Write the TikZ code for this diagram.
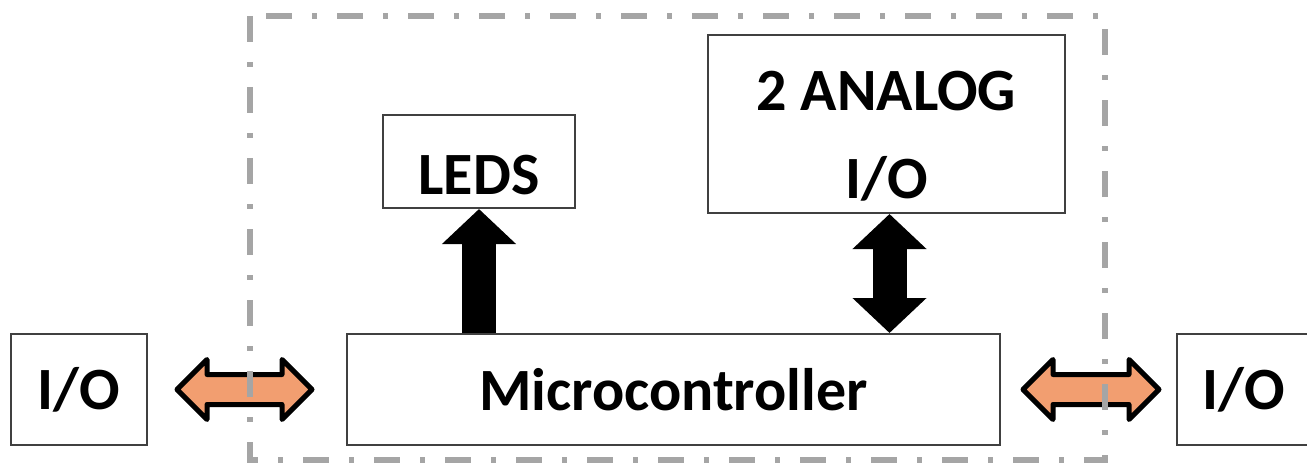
\documentclass[tikz,border=0pt]{standalone}
\usepackage{fontspec}
\setmainfont{Carlito}
\usetikzlibrary{arrows.meta,%
		calc,%
		positioning}
\definecolor{ioorange}{RGB}{242,158,112}
\definecolor{framegray}{RGB}{165,165,165}
\tikzset{
  blk/.style={draw=black!75, line width=1pt, fill=white, inner sep=0pt,
    align=center, font=\fontsize{30}{42}\selectfont\bfseries},
  frame/.style={draw=framegray, line width=3pt,
    dash pattern=on 13pt off 10pt on 2.5pt off 10pt},
  fatarrow/.style={line width=17pt, -{Triangle[width=36pt,length=17.5pt]}},
  fatdouble/.style={line width=17pt,
    {Triangle[width=36pt,length=17.5pt]}-{Triangle[width=36pt,length=17.5pt]}},
  orangearrow/.style={fill=ioorange, draw=black, line width=2.5pt, line join=round}
}
\newcommand\ioarrow[2]{%
  \draw[orangearrow] (#1) -- ++(30,-30) -- ++(0,15) -- ($(#2)+(-30,-15)$)
    -- ++(0,-15) -- (#2) -- ++(-30,30) -- ++(0,-15) -- ($(#1)+(30,15)$)
    -- ++(0,15) -- cycle;}

\begin{document}
\begin{tikzpicture}[x=0.5pt,y=-0.5pt]
  \useasboundingbox (0,0) rectangle (1307,465);

  % boxes
  \node[blk, minimum width=68pt, minimum height=55.5pt] (iol) at (79,389.5) {I/O};
  \node[blk, minimum width=326.5pt, minimum height=55.5pt] (mcu) at (673.5,389.5) {Microcontroller};
  \node[blk, minimum width=66.5pt, minimum height=55.5pt] (ior) at (1243.5,389.5) {I/O};
  \node[blk, minimum width=96pt, minimum height=46.5pt] (leds) at (479,161.5)
    {\raisebox{-7pt}[\height][\depth]{LEDS}};
  \node[blk, minimum width=178.5pt, minimum height=89pt] (ana) at (886.5,124)
    {\raisebox{-6pt}[\height][\depth]{\shortstack{2 ANALOG\\[20pt]I/O}}};

  % arrows
  \draw[fatarrow] (leds.south |- mcu.north) -- (leds.south);
  \draw[fatdouble] ($(mcu.north -| ana.south)+(3,0)$) -- ($(ana.south)+(3,0)$);
  \coordinate (la) at ($(iol.east)+(29,0)$);
  \coordinate (lb) at ($(mcu.west)+(-34,0)$);
  \coordinate (ra) at ($(mcu.east)+(22,0)$);
  \coordinate (rb) at ($(ior.west)+(-17,0)$);
  \ioarrow{la}{lb}
  \ioarrow{ra}{rb}

  % frame
  \draw[frame] (250,16) rectangle (1105,460);
\end{tikzpicture}
\end{document}
